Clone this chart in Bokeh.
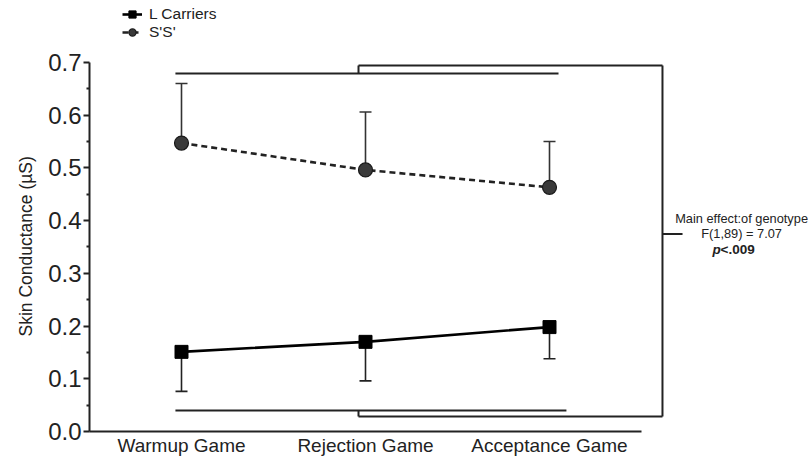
from bokeh.plotting import figure
from bokeh.models import Range1d, FixedTicker, Legend, LegendItem, Whisker, TeeHead, ColumnDataSource, Title
from bokeh.core.properties import value
from bokeh.embed import file_html
from bokeh.resources import INLINE

# ---- data ----
categories = ["Warmup Game", "Rejection Game", "Acceptance Game"]
l_mean = [0.151, 0.170, 0.198]
l_err = [0.075, 0.074, 0.060]
s_mean = [0.547, 0.496, 0.463]
s_err = [0.113, 0.110, 0.087]
y_ticks = [0.0, 0.1, 0.2, 0.3, 0.4, 0.5, 0.6, 0.7]
y_tick_labels = ["0.0", "0.1", "0.2", "0.3", "0.4", "0.5", "0.6", "0.7"]
y_minor = [0.05, 0.15, 0.25, 0.35, 0.45, 0.55, 0.65]
y_title = "Skin Conductance (µS)"
stat_lines = ["Main effect:of genotype", "F(1,89) = 7.07"]
p_label = ["p", "<.009"]

xs = list(range(len(categories)))
FONT = "Liberation Sans"
INK = "#222222"

p = figure(width=808, height=458, x_range=Range1d(-0.5, 3.4076), y_range=Range1d(0, 0.8173),
           output_backend="svg", toolbar_location=None,
           min_border_left=89, min_border_right=0, min_border_top=0, min_border_bottom=26)
p.outline_line_color = None
p.xgrid.grid_line_color = None
p.ygrid.grid_line_color = None
p.background_fill_color = "white"
p.border_fill_color = "white"

# y axis
ya = p.yaxis[0]
ya.ticker = FixedTicker(ticks=y_ticks, minor_ticks=y_minor)
ya.bounds = (y_ticks[0], y_ticks[-1])
ya.major_label_overrides = {t: l for t, l in zip(y_ticks, y_tick_labels)}
ya.major_label_text_font = FONT
ya.major_label_text_font_size = "24px"
ya.major_label_text_color = INK
ya.major_label_standoff = 2
ya.axis_line_width = 2
ya.axis_line_color = INK
ya.major_tick_in = 0
ya.major_tick_out = 6
ya.major_tick_line_width = 2
ya.major_tick_line_color = INK
ya.minor_tick_in = 0
ya.minor_tick_out = 3
ya.minor_tick_line_width = 2
ya.minor_tick_line_color = INK

# y axis title, placed as a side title so it can be centred on the 0-0.7 span
p.add_layout(Title(text=y_title, align="left", offset=95, standoff=19,
                   text_font=FONT, text_font_size="17.5px", text_font_style="normal",
                   text_color=INK), "left")

# x axis
xa = p.xaxis[0]
xa.ticker = FixedTicker(ticks=xs, minor_ticks=[])
xa.major_label_overrides = {i: c for i, c in zip(xs, categories)}
xa.bounds = (-0.5, 2.5)
xa.major_label_text_font = FONT
xa.major_label_text_font_size = "19px"
xa.major_label_text_color = INK
xa.major_label_standoff = 3
xa.axis_line_width = 2
xa.axis_line_color = INK
xa.major_tick_in = 0
xa.major_tick_out = 0
xa.minor_tick_in = 0
xa.minor_tick_out = 0
xa.major_tick_line_color = None
xa.minor_tick_line_color = None

# error bars
s_src = ColumnDataSource(dict(x=xs, base=s_mean, top=[m + e for m, e in zip(s_mean, s_err)]))
l_src = ColumnDataSource(dict(x=xs, base=l_mean, bot=[m - e for m, e in zip(l_mean, l_err)]))
p.add_layout(Whisker(source=s_src, base="x", lower="base", upper="top", dimension="height",
                     line_color="#333333", line_width=1.6, lower_head=None,
                     upper_head=TeeHead(size=12, line_color="#333333", line_width=1.6)))
p.add_layout(Whisker(source=l_src, base="x", lower="bot", upper="base", dimension="height",
                     line_color="#222222", line_width=1.6, upper_head=None,
                     lower_head=TeeHead(size=12, line_color="#222222", line_width=1.6)))

# series
l_line = p.line(xs, l_mean, line_color="black", line_width=2.6)
l_mk = p.scatter(xs, l_mean, marker="square", size=13, fill_color="black", line_color="black")
s_line = p.line(xs, s_mean, line_color=INK, line_width=2.6, line_dash="6 4")
s_mk = p.scatter(xs, s_mean, marker="circle", size=14, fill_color="#3a3a3a", line_color="#1a1a1a", line_width=1.2)

# significance brackets (annotation geometry)
bw = 2.0
top_in, top_out = 0.679, 0.694
bot_in, bot_out = 0.0397, 0.0284
left_in = -0.033
br_left, br_right = 0.962, 2.614
p.segment(x0=[left_in, br_left, br_left, br_right, left_in, br_left, br_left, br_right],
          y0=[top_in, top_in, top_out, top_out, bot_in, bot_in, bot_out, 0.3746],
          x1=[2.049, br_left, br_right, br_right, 2.092, br_left, br_right, 2.723],
          y1=[top_in, top_out, top_out, bot_out, bot_in, bot_out, bot_out, 0.3746],
          line_color=INK, line_width=bw)

# statistic text
p.text(x=[3.044, 3.044], y=[0.4048, 0.3746], text=stat_lines, text_align="center",
       text_baseline="middle", text_font=value(FONT), text_font_size="12.8px", text_color=INK)
p.text(x=[2.886], y=[0.3443], text=[p_label[0]], text_align="left", text_baseline="middle",
       text_font=value(FONT), text_font_size="13.5px", text_font_style="bold italic", text_color=INK)
p.text(x=[2.930], y=[0.3443], text=[p_label[1]], text_align="left", text_baseline="middle",
       text_font=value(FONT), text_font_size="13.5px", text_font_style="bold", text_color=INK)

legend = Legend(items=[LegendItem(label="L Carriers", renderers=[l_line, l_mk]),
                       LegendItem(label="S'S'", renderers=[s_line, s_mk])],
                location=(33, 390), orientation="vertical",
                glyph_width=20, glyph_height=18, label_height=18, spacing=0,
                padding=0, margin=0, label_standoff=7,
                label_text_font=FONT, label_text_font_size="15.5px", label_text_color=INK,
                border_line_color=None, background_fill_alpha=0)
p.add_layout(legend)

open("out.html", "w").write(file_html(p, INLINE))
